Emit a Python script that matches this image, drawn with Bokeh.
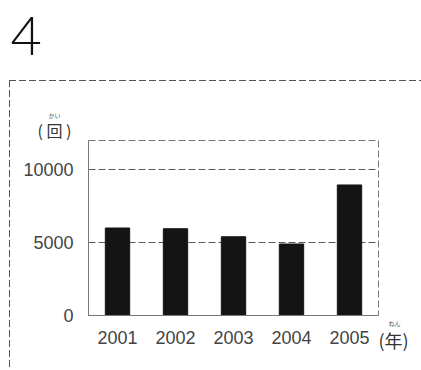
from bokeh.plotting import figure
from bokeh.models import FixedTicker, Label
from bokeh.embed import file_html
from bokeh.resources import INLINE

years = ["2001", "2002", "2003", "2004", "2005"]
counts = [6000, 5950, 5400, 4900, 8950]
y_ticks = [0, 5000, 10000]

p = figure(x_range=years, y_range=(0, 12000), width=421, height=370,
           output_backend="svg", toolbar_location=None,
           min_border_left=88, min_border_right=43,
           min_border_top=140, min_border_bottom=55)

p.vbar(x=years, top=counts, width=0.42, color="#141414")

p.xgrid.grid_line_color = None
p.ygrid.ticker = FixedTicker(ticks=y_ticks)
p.ygrid.grid_line_color = "#5a5a5a"
p.ygrid.grid_line_dash = "7 3"

p.outline_line_color = "#777777"
p.outline_line_dash = "7 3"
p.border_fill_color = None

for ax in (p.xaxis[0], p.yaxis[0]):
    ax.major_tick_out = 0
    ax.major_tick_in = 0
    ax.minor_tick_out = 0
    ax.minor_tick_in = 0
    ax.axis_line_color = "#777777"
    ax.major_label_text_font = "Liberation Sans"
    ax.major_label_text_font_size = "18px"
    ax.major_label_text_color = "#444444"

p.yaxis.ticker = FixedTicker(ticks=y_ticks)
p.yaxis.major_label_standoff = 15
p.xaxis.major_label_standoff = 15
p.x_range.range_padding = 0

# dashed frame around the figure area (top and left edges)
dash = "#555555 0px, #555555 7px, transparent 7px, transparent 10px"
p.styles = {
    "background-image": (f"repeating-linear-gradient(to right, {dash}), "
                         f"repeating-linear-gradient(to bottom, {dash})"),
    "background-position": "9px 80px, 9px 80px",
    "background-size": "412px 1px, 1px 290px",
    "background-repeat": "no-repeat",
}

p.add_layout(Label(x=10, y=35, x_units="canvas", y_units="canvas", text="4",
                   text_font="'Lato Light', 'Liberation Sans'", text_font_size="54px",
                   text_color="#111111", text_baseline="middle"), "above")
p.add_layout(Label(x=37, y=129, x_units="canvas", y_units="canvas", text="( 回 )",
                   text_font="Noto Sans CJK JP", text_font_size="16px",
                   text_color="#333333", text_baseline="middle"), "above")
p.add_layout(Label(x=54, y=115, x_units="canvas", y_units="canvas", text="かい",
                   text_font="Noto Sans CJK JP", text_font_size="6px",
                   text_color="#555555", text_baseline="middle",
                   text_align="center"), "above")
p.add_layout(Label(x=378, y=339, x_units="canvas", y_units="canvas", text="(年)",
                   text_font="Noto Sans CJK JP", text_font_size="18px",
                   text_color="#333333", text_baseline="middle"), "right")
p.add_layout(Label(x=394, y=323, x_units="canvas", y_units="canvas", text="ねん",
                   text_font="Noto Sans CJK JP", text_font_size="6px",
                   text_color="#555555", text_baseline="middle",
                   text_align="center"), "below")

open("out.html", "w").write(file_html(p, INLINE))
